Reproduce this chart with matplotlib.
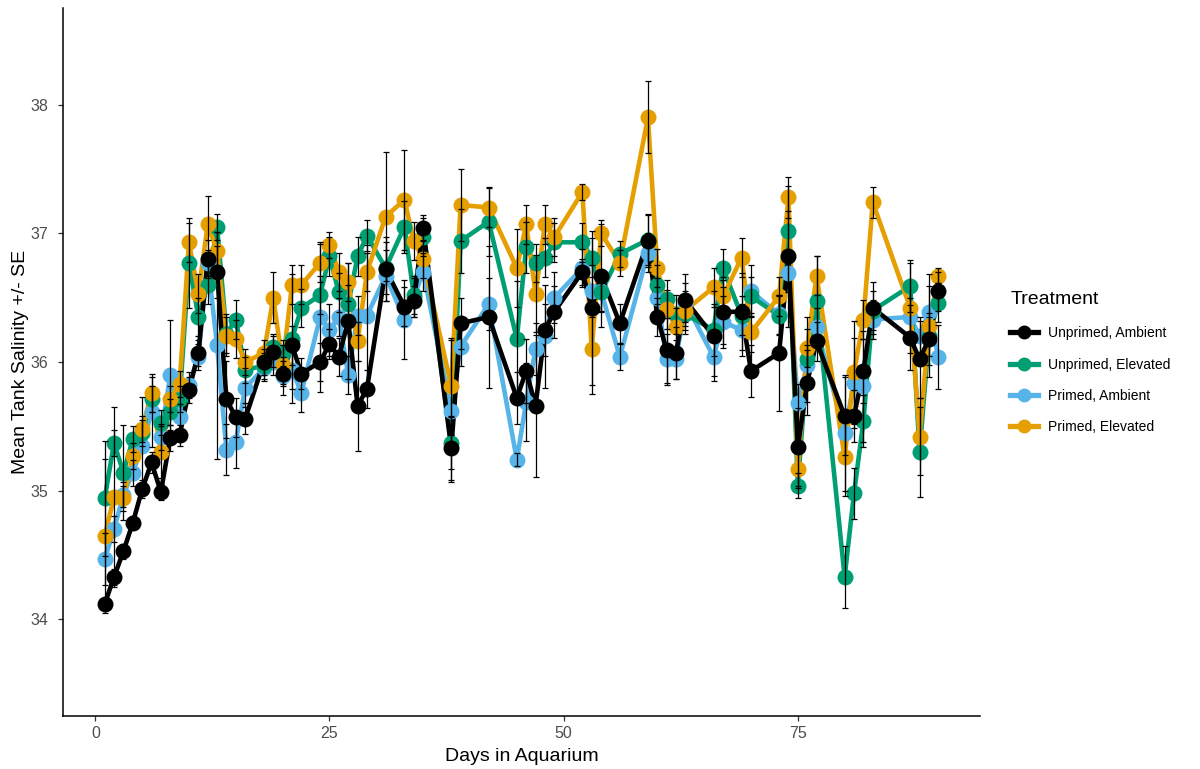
import matplotlib
matplotlib.use("Agg")
import matplotlib.pyplot as plt
from matplotlib.lines import Line2D

plt.rcParams['font.family'] = ['Liberation Sans', 'DejaVu Sans']

days = [1, 2, 3, 4, 5, 6, 7, 8, 9, 10, 11, 12, 13, 14, 15, 16, 18, 19, 20, 21, 22,
        24, 25, 26, 27, 28, 29, 31, 33, 34, 35, 38, 39, 42, 45, 46, 47, 48, 49,
        52, 53, 54, 56, 59, 60, 61, 62, 63, 66, 67, 69, 70, 73, 74, 75, 76, 77,
        80, 81, 82, 83, 87, 88, 89, 90]

unprimed_ambient = [34.12, 34.33, 34.53, 34.75, 35.01, 35.22, 34.99, 35.41, 35.43, 35.78, 36.07,
                    36.80, 36.70, 35.71, 35.57, 35.56, 36.00, 36.08, 35.91, 36.13, 35.91,
                    36.00, 36.14, 36.04, 36.32, 35.66, 35.79, 36.72, 36.43, 36.47, 37.04,
                    35.33, 36.30, 36.35, 35.72, 35.93, 35.66, 36.25, 36.39, 36.70, 36.42,
                    36.67, 36.30, 36.94, 36.35, 36.09, 36.07, 36.48, 36.20, 36.39, 36.39,
                    35.93, 36.07, 36.82, 35.34, 35.84, 36.16, 35.58, 35.58, 35.93, 36.42,
                    36.19, 36.02, 36.18, 36.55]
unprimed_ambient_se = [0.05, 0.06, 0.06, 0.05, 0.07, 0.08, 0.06, 0.10, 0.08, 0.10, 0.10,
                       0.15, 0.20, 0.30, 0.15, 0.12, 0.10, 0.12, 0.10, 0.15, 0.12,
                       0.15, 0.12, 0.15, 0.45, 0.35, 0.15, 0.25, 0.15, 0.12, 0.10,
                       0.25, 0.20, 0.55, 0.20, 0.25, 0.55, 0.20, 0.20, 0.10, 0.60,
                       0.40, 0.15, 0.20, 0.15, 0.25, 0.20, 0.20, 0.35, 0.25, 0.30,
                       0.20, 0.45, 0.55, 0.30, 0.25, 0.15, 0.30, 0.20, 0.25, 0.20,
                       0.25, 0.30, 0.20, 0.15]

unprimed_elevated = [34.94, 35.37, 35.14, 35.40, 35.45, 35.71, 35.53, 35.61, 35.71, 36.77, 36.35,
                     36.60, 37.05, 36.22, 36.33, 35.94, 35.97, 36.12, 36.07, 36.18, 36.42,
                     36.52, 36.82, 36.54, 36.45, 36.82, 36.98, 36.73, 37.05, 36.52, 36.97,
                     35.37, 36.94, 37.09, 36.18, 36.89, 36.77, 36.81, 36.93, 36.93, 36.81,
                     36.54, 36.84, 36.95, 36.60, 36.49, 36.37, 36.37, 36.25, 36.73, 36.36,
                     36.51, 36.36, 37.02, 35.04, 36.02, 36.47, 34.33, 34.98, 35.54, 36.40,
                     36.59, 35.30, 36.20, 36.46]
unprimed_elevated_se = [0.45, 0.10, 0.37, 0.10, 0.10, 0.10, 0.10, 0.10, 0.10, 0.35, 0.15,
                        0.15, 0.10, 0.15, 0.15, 0.10, 0.10, 0.10, 0.10, 0.50, 0.15,
                        0.15, 0.15, 0.15, 0.15, 0.15, 0.12, 0.20, 0.20, 0.15, 0.15,
                        0.20, 0.25, 0.27, 0.45, 0.20, 0.15, 0.15, 0.15, 0.15, 0.15,
                        0.15, 0.10, 0.20, 0.15, 0.15, 0.15, 0.15, 0.20, 0.15, 0.15,
                        0.15, 0.15, 0.15, 0.10, 0.33, 0.35, 0.24, 0.20, 0.20, 0.15,
                        0.20, 0.35, 0.15, 0.15]

primed_ambient = [34.47, 34.70, 34.97, 35.14, 35.35, 35.61, 35.42, 35.90, 35.57, 35.82, 36.04,
                  36.77, 36.13, 35.32, 35.38, 35.80, 35.95, 36.00, 35.89, 35.94, 35.76,
                  36.35, 36.25, 36.35, 35.90, 36.36, 36.36, 36.67, 36.33, 36.50, 36.70,
                  35.62, 36.12, 36.45, 35.24, 35.69, 36.10, 36.20, 36.50, 36.73, 36.55,
                  36.55, 36.04, 36.85, 36.50, 36.02, 36.02, 36.46, 36.04, 36.31, 36.25,
                  36.55, 36.37, 36.69, 35.68, 35.98, 36.27, 35.45, 35.84, 35.81, 36.33,
                  36.35, 36.20, 36.39, 36.04]
primed_ambient_se = [0.20, 0.10, 0.10, 0.10, 0.38, 0.27, 0.10, 0.43, 0.10, 0.10, 0.10,
                     0.10, 0.88, 0.20, 0.20, 0.15, 0.10, 0.10, 0.15, 0.15, 0.15,
                     0.58, 0.20, 0.15, 0.15, 0.15, 0.55, 0.20, 0.31, 0.15, 0.15,
                     0.55, 0.15, 0.20, 0.05, 0.30, 0.20, 0.40, 0.20, 0.15, 0.20,
                     0.15, 0.10, 0.15, 0.15, 0.20, 0.15, 0.15, 0.15, 0.20, 0.20,
                     0.20, 0.15, 0.15, 0.15, 0.15, 0.15, 0.45, 0.35, 0.43, 0.15,
                     0.15, 0.15, 0.20, 0.25]

primed_elevated = [34.65, 34.95, 34.94, 35.27, 35.48, 35.76, 35.30, 35.71, 35.83, 36.93, 36.53,
                   37.07, 36.86, 36.20, 36.18, 36.00, 36.07, 36.50, 35.98, 36.60, 36.60,
                   36.77, 36.91, 36.70, 36.62, 36.16, 36.70, 37.13, 37.26, 36.94, 36.80,
                   35.81, 37.22, 37.20, 36.73, 37.07, 36.53, 37.07, 36.97, 37.32, 36.10,
                   37.00, 36.77, 37.90, 36.73, 36.41, 36.27, 36.40, 36.58, 36.51, 36.81,
                   36.23, 36.51, 37.28, 35.17, 36.11, 36.67, 35.26, 35.92, 36.33, 37.24,
                   36.42, 35.42, 36.28, 36.67]
primed_elevated_se = [0.60, 0.70, 0.10, 0.10, 0.10, 0.15, 0.20, 0.10, 0.10, 0.15, 0.15,
                      0.22, 0.15, 0.15, 0.15, 0.10, 0.10, 0.20, 0.15, 0.15, 0.15,
                      0.15, 0.10, 0.15, 0.15, 0.15, 0.15, 0.50, 0.39, 0.15, 0.15,
                      0.38, 0.28, 0.15, 0.30, 0.15, 0.30, 0.15, 0.15, 0.06, 0.35,
                      0.10, 0.10, 0.28, 0.15, 0.15, 0.15, 0.15, 0.15, 0.15, 0.15,
                      0.15, 0.15, 0.16, 0.15, 0.15, 0.15, 0.30, 0.40, 0.15, 0.12,
                      0.35, 0.30, 0.40, 0.06]

labels = ["Unprimed, Ambient", "Unprimed, Elevated", "Primed, Ambient", "Primed, Elevated"]
colors = ["#000000", "#009E73", "#56B4E9", "#E69F00"]
series = [unprimed_ambient, unprimed_elevated, primed_ambient, primed_elevated]
ses = [unprimed_ambient_se, unprimed_elevated_se, primed_ambient_se, primed_elevated_se]

draw_order = [2, 1, 3, 0]

fig = plt.figure(figsize=(12, 7.69), dpi=100)
ax = fig.add_axes([63 / 1200, 53 / 769, 917 / 1200, 708 / 769])

LW = 3.3
MS = 11.5
for i in draw_order:
    ax.plot(days, series[i], color=colors[i], lw=LW, solid_capstyle='butt', zorder=2)
for i in draw_order:
    ax.plot(days, series[i], linestyle='none', marker='o', ms=MS, color=colors[i],
            markeredgewidth=0, zorder=3)
for i in draw_order:
    ax.errorbar(days, series[i], yerr=ses[i], fmt='none', ecolor='black',
                elinewidth=0.9, capsize=2.5, capthick=0.9, zorder=4)

ax.set_xlim(-3.45, 94.45)
ax.set_ylim(33.25, 38.75)
ax.set_xticks([0, 25, 50, 75])
ax.set_yticks([34, 35, 36, 37, 38])
for s in ['top', 'right']:
    ax.spines[s].set_visible(False)
for s in ['left', 'bottom']:
    ax.spines[s].set_linewidth(1.1)
    ax.spines[s].set_color('black')
ax.tick_params(axis='both', colors='#333333', labelcolor='#4D4D4D', labelsize=11.5,
               length=3.8, width=0.9)
ax.tick_params(axis='y', pad=7)
ax.set_xlabel("Days in Aquarium", fontsize=14, color='black', labelpad=5)
ax.set_ylabel("Mean Tank Salinity +/- SE", fontsize=14, color='black', labelpad=0.5)

handles = [Line2D([0], [0], color=colors[i], lw=LW + 0.5, marker='o', ms=10, markeredgewidth=0)
           for i in range(4)]
leg = fig.legend(handles, labels, loc='upper left', bbox_to_anchor=(1006 / 1200, 1 - 287 / 769),
                 frameon=False, title="Treatment", fontsize=10.0, title_fontsize=14,
                 handlelength=2.0, labelspacing=1.25, handletextpad=0.7, borderaxespad=0,
                 borderpad=0.3)
leg._legend_box.align = "left"
leg._legend_box.sep = 13

fig.savefig("out.png", dpi=100)
